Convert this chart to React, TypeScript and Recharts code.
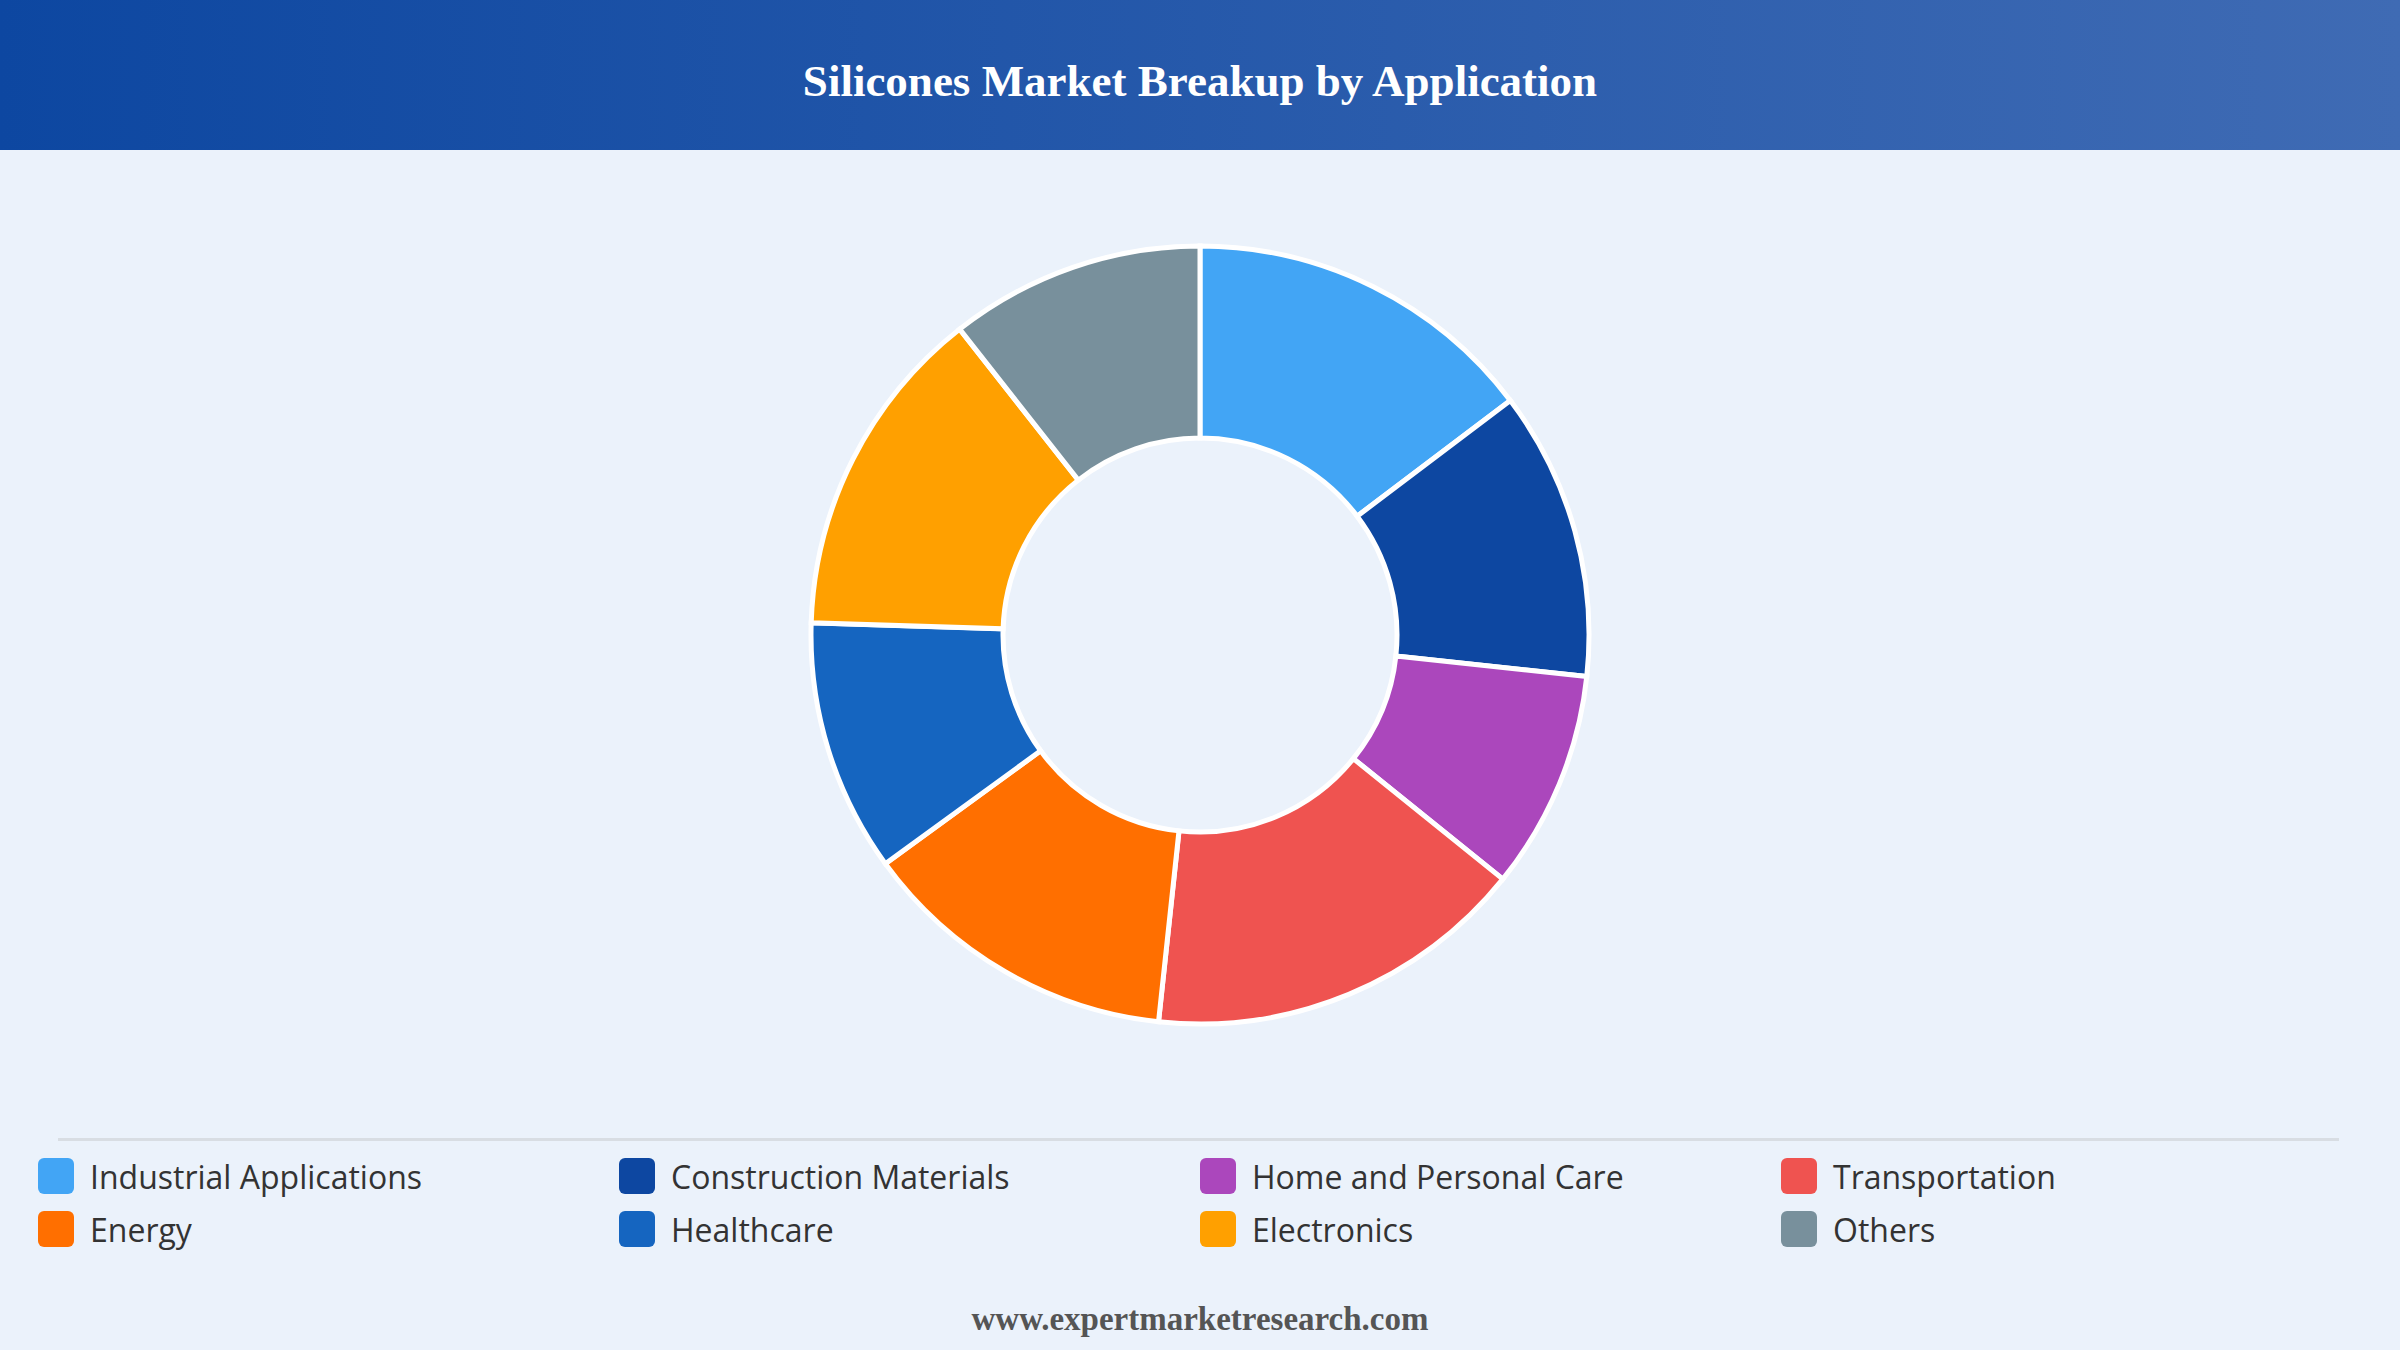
import { PieChart, Pie, Cell } from "recharts";

const categories = [
  "Industrial Applications",
  "Construction Materials",
  "Home and Personal Care",
  "Transportation",
  "Energy",
  "Healthcare",
  "Electronics",
  "Others",
];
const shares = [14.7, 12.0, 9.1, 15.9, 13.3, 10.5, 13.9, 10.6];
const colors = [
  "#42A5F5",
  "#0D47A1",
  "#AB47BC",
  "#EF5350",
  "#FF6F00",
  "#1565C0",
  "#FFA000",
  "#78909C",
];

const data = categories.map((name, i) => ({ name, value: shares[i] }));

const App = () => {
  return (
    <div
      style={{
        position: "absolute",
        left: 0,
        top: 0,
        width: 2400,
        height: 1350,
        background: "#EBF2FB",
        overflow: "hidden",
      }}>
      <div
        style={{
          height: 150,
          background: "linear-gradient(to right, #0D47A1, #3F6BB4)",
          color: "#fff",
          fontFamily: "'Liberation Serif', 'Times New Roman', serif",
          fontWeight: "bold",
          fontSize: 45,
          textAlign: "center",
          lineHeight: "162px",
        }}>
        Silicones Market Breakup by Application
      </div>

      <div style={{ position: "absolute", left: 0, top: 150 }}>
        <PieChart width={2400} height={960} margin={{ top: 0, right: 0, bottom: 0, left: 0 }}>
          <Pie
            data={data}
            dataKey="value"
            nameKey="name"
            cx={1200}
            cy={485}
            innerRadius={197}
            outerRadius={389}
            startAngle={90}
            endAngle={-270}
            stroke="#ffffff"
            strokeWidth={5}
            isAnimationActive={false}>
            {data.map((d, i) => (
              <Cell key={d.name} fill={colors[i]} />
            ))}
          </Pie>
        </PieChart>
      </div>

      <div
        style={{
          position: "absolute",
          left: 58,
          top: 1138,
          width: 2281,
          height: 3,
          background: "#D8DDE3",
        }}
      />

      <div
        style={{
          position: "absolute",
          left: 38,
          top: 1158,
          width: 2340,
          display: "grid",
          gridTemplateColumns: "repeat(4, 581px)",
          rowGap: 17,
          fontFamily: "'Open Sans', sans-serif",
          fontSize: 32,
          color: "#333",
        }}>
        {categories.map((c, i) => (
          <div key={c} style={{ display: "flex", alignItems: "center", height: 36 }}>
            <div
              style={{
                width: 36,
                height: 36,
                borderRadius: 6,
                background: colors[i],
                marginRight: 16,
                flexShrink: 0,
              }}
            />
            <span>{c}</span>
          </div>
        ))}
      </div>

      <div
        style={{
          position: "absolute",
          left: 0,
          top: 1301,
          width: 2400,
          textAlign: "center",
          fontFamily: "'Liberation Serif', 'Times New Roman', serif",
          fontWeight: "bold",
          fontSize: 33,
          color: "#555",
        }}>
        www.expertmarketresearch.com
      </div>
    </div>
  );
};

export default App;
